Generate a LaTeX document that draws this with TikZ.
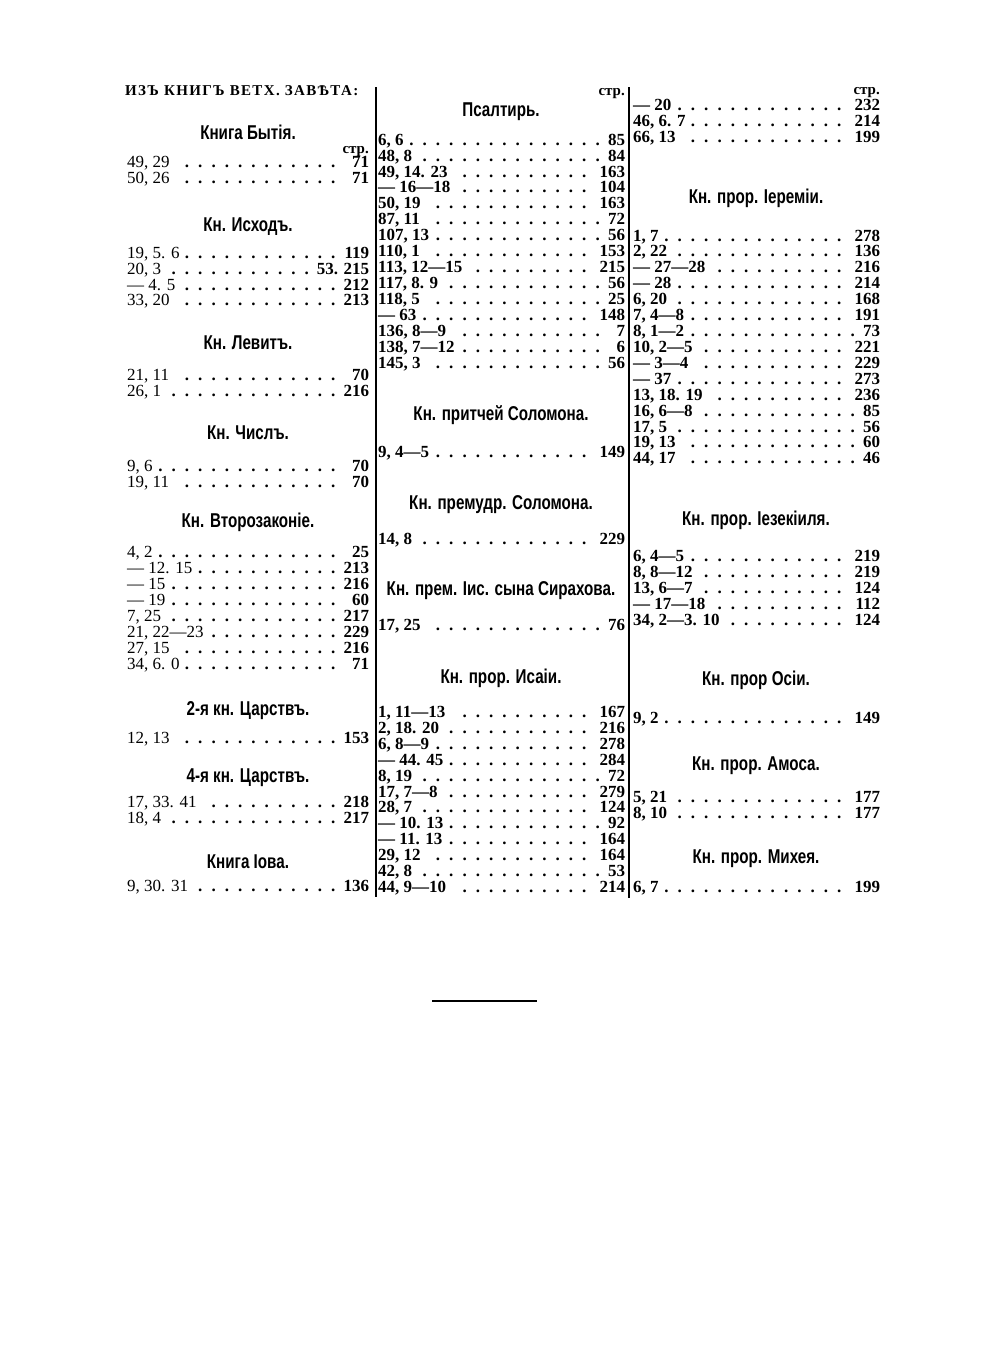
\documentclass[tikz,border=0pt]{standalone}
\usepackage{fontspec}
\setmainfont{Liberation Serif}
\newfontfamily\hdfont[FakeStretch=0.76]{Liberation Sans}
\newfontfamily\ttlfont[LetterSpace=9]{Liberation Serif}
\newcounter{entc}
\def\colx{127}\def\colw{242}
\def\entweight{\mdseries}
\newcommand\mydots{\leaders\hbox to 13.3pt{\hss\textbf{.}\hss}\hfill}
\newcommand\ent[3]{\stepcounter{entc}\node[entry] (e\number\value{entc}) at (\colx,#1+5.8) {\hbox to \colw pt{#2\mydots\hspace{1pt}\textbf{#3}}};}
\tikzset{
  entry/.style={anchor=base west,inner sep=0pt,font=\fontsize{17}{17}\selectfont\entweight},
  head/.style={anchor=base,inner sep=0pt,font=\hdfont\bfseries\fontsize{20}{20}\selectfont},
  strlab/.style={anchor=base east,inner sep=0pt,font=\bfseries\fontsize{15}{15}\selectfont},
  colrule/.style={line width=1.6pt,black}
}
\begin{document}
\begin{tikzpicture}[x=1pt,y=-1pt]
\fill[white] (0,0) rectangle (1000,1366);
\useasboundingbox (0,0) rectangle (1000,1366);
% rules
\draw[colrule] (376,87) -- (376,897);
\draw[colrule] (629,87) -- (629,898);
\draw[line width=1.5pt] (432,1001) -- (537,1001);
% ---------------- column 1
\node[anchor=base west,inner sep=0pt,font=\ttlfont\bfseries\fontsize{15}{15}\selectfont] (title) at (125,95.5) {ИЗЪ КНИГЪ ВЕТХ. ЗАВѢТА:};
\node[head] (h1) at (248,132+7) {Книга Бытія.};
\node[strlab] (s1) at (369,150+3.5) {стр.};
\ent{162}{49, 29}{71}
\ent{178}{50, 26}{71}
\node[head] (h2) at (248,224+7) {Кн. Исходъ.};
\ent{253}{19, 5. 6}{119}
\ent{269}{20, 3}{53. 215}
\ent{285}{— 4. 5}{212}
\ent{300}{33, 20}{213}
\node[head] (h3) at (248,342+7) {Кн. Левитъ.};
\ent{375}{21, 11}{70}
\ent{391}{26, 1}{216}
\node[head] (h4) at (248,432+7) {Кн. Числъ.};
\ent{466}{9, 6}{70}
\ent{482}{19, 11}{70}
\node[head] (h5) at (248,520+7) {Кн. Второзаконіе.};
\ent{552}{4, 2}{25}
\ent{568}{— 12. 15}{213}
\ent{584}{— 15}{216}
\ent{600}{— 19}{60}
\ent{616}{7, 25}{217}
\ent{632}{21, 22—23}{229}
\ent{648}{27, 15}{216}
\ent{664}{34, 6. 0}{71}
\node[head] (h6) at (248,708+7) {2-я кн. Царствъ.};
\ent{738}{12, 13}{153}
\node[head] (h7) at (248,775+7) {4-я кн. Царствъ.};
\ent{802}{17, 33. 41}{218}
\ent{818}{18, 4}{217}
\node[head] (h8) at (248,861+7) {Книга Іова.};
\ent{886}{9, 30. 31}{136}
% ---------------- column 2
\def\colx{378}\def\colw{247}\def\entweight{\bfseries}
\node[strlab] (s2) at (625,92+3.5) {стр.};
\node[head] (h9) at (501,109+7) {Псалтирь.};
\ent{140}{6, 6}{85}
\ent{156}{48, 8}{84}
\ent{172}{49, 14. 23}{163}
\ent{187}{— 16—18}{104}
\ent{203}{50, 19}{163}
\ent{219}{87, 11}{72}
\ent{235}{107, 13}{56}
\ent{251}{110, 1}{153}
\ent{267}{113, 12—15}{215}
\ent{283}{117, 8. 9}{56}
\ent{299}{118, 5}{25}
\ent{315}{— 63}{148}
\ent{331}{136, 8—9}{7}
\ent{347}{138, 7—12}{6}
\ent{363}{145, 3}{56}
\node[head] (h10) at (501,413+7) {Кн. притчей Соломона.};
\ent{452}{9, 4—5}{149}
\node[head] (h11) at (501,502+7) {Кн. премудр. Соломона.};
\ent{539}{14, 8}{229}
\node[head] (h12) at (501,588+7) {Кн. прем. Іис. сына Сирахова.};
\ent{625}{17, 25}{76}
\node[head] (h13) at (501,676+7) {Кн. прор. Исаіи.};
\ent{712}{1, 11—13}{167}
\ent{728}{2, 18. 20}{216}
\ent{744}{6, 8—9}{278}
\ent{760}{— 44. 45}{284}
\ent{776}{8, 19}{72}
\ent{792}{17, 7—8}{279}
\ent{807}{28, 7}{124}
\ent{823}{— 10. 13}{92}
\ent{839}{— 11. 13}{164}
\ent{855}{29, 12}{164}
\ent{871}{42, 8}{53}
\ent{887}{44, 9—10}{214}
% ---------------- column 3
\def\colx{633}\def\colw{247}
\node[strlab] (s3) at (880,91+3.5) {стр.};
\ent{105}{— 20}{232}
\ent{121}{46, 6. 7}{214}
\ent{137}{66, 13}{199}
\node[head] (h14) at (756,196+7) {Кн. прор. Іереміи.};
\ent{236}{1, 7}{278}
\ent{251}{2, 22}{136}
\ent{267}{— 27—28}{216}
\ent{283}{— 28}{214}
\ent{299}{6, 20}{168}
\ent{315}{7, 4—8}{191}
\ent{331}{8, 1—2}{73}
\ent{347}{10, 2—5}{221}
\ent{363}{— 3—4}{229}
\ent{379}{— 37}{273}
\ent{395}{13, 18. 19}{236}
\ent{411}{16, 6—8}{85}
\ent{427}{17, 5}{56}
\ent{442}{19, 13}{60}
\ent{458}{44, 17}{46}
\node[head] (h15) at (756,518+7) {Кн. прор. Іезекіиля.};
\ent{556}{6, 4—5}{219}
\ent{572}{8, 8—12}{219}
\ent{588}{13, 6—7}{124}
\ent{604}{— 17—18}{112}
\ent{620}{34, 2—3. 10}{124}
\node[head] (h16) at (756,678+7) {Кн. прор Осіи.};
\ent{718}{9, 2}{149}
\node[head] (h17) at (756,763+7) {Кн. прор. Амоса.};
\ent{797}{5, 21}{177}
\ent{813}{8, 10}{177}
\node[head] (h18) at (756,856+7) {Кн. прор. Михея.};
\ent{887}{6, 7}{199}
\end{tikzpicture}
\end{document}
